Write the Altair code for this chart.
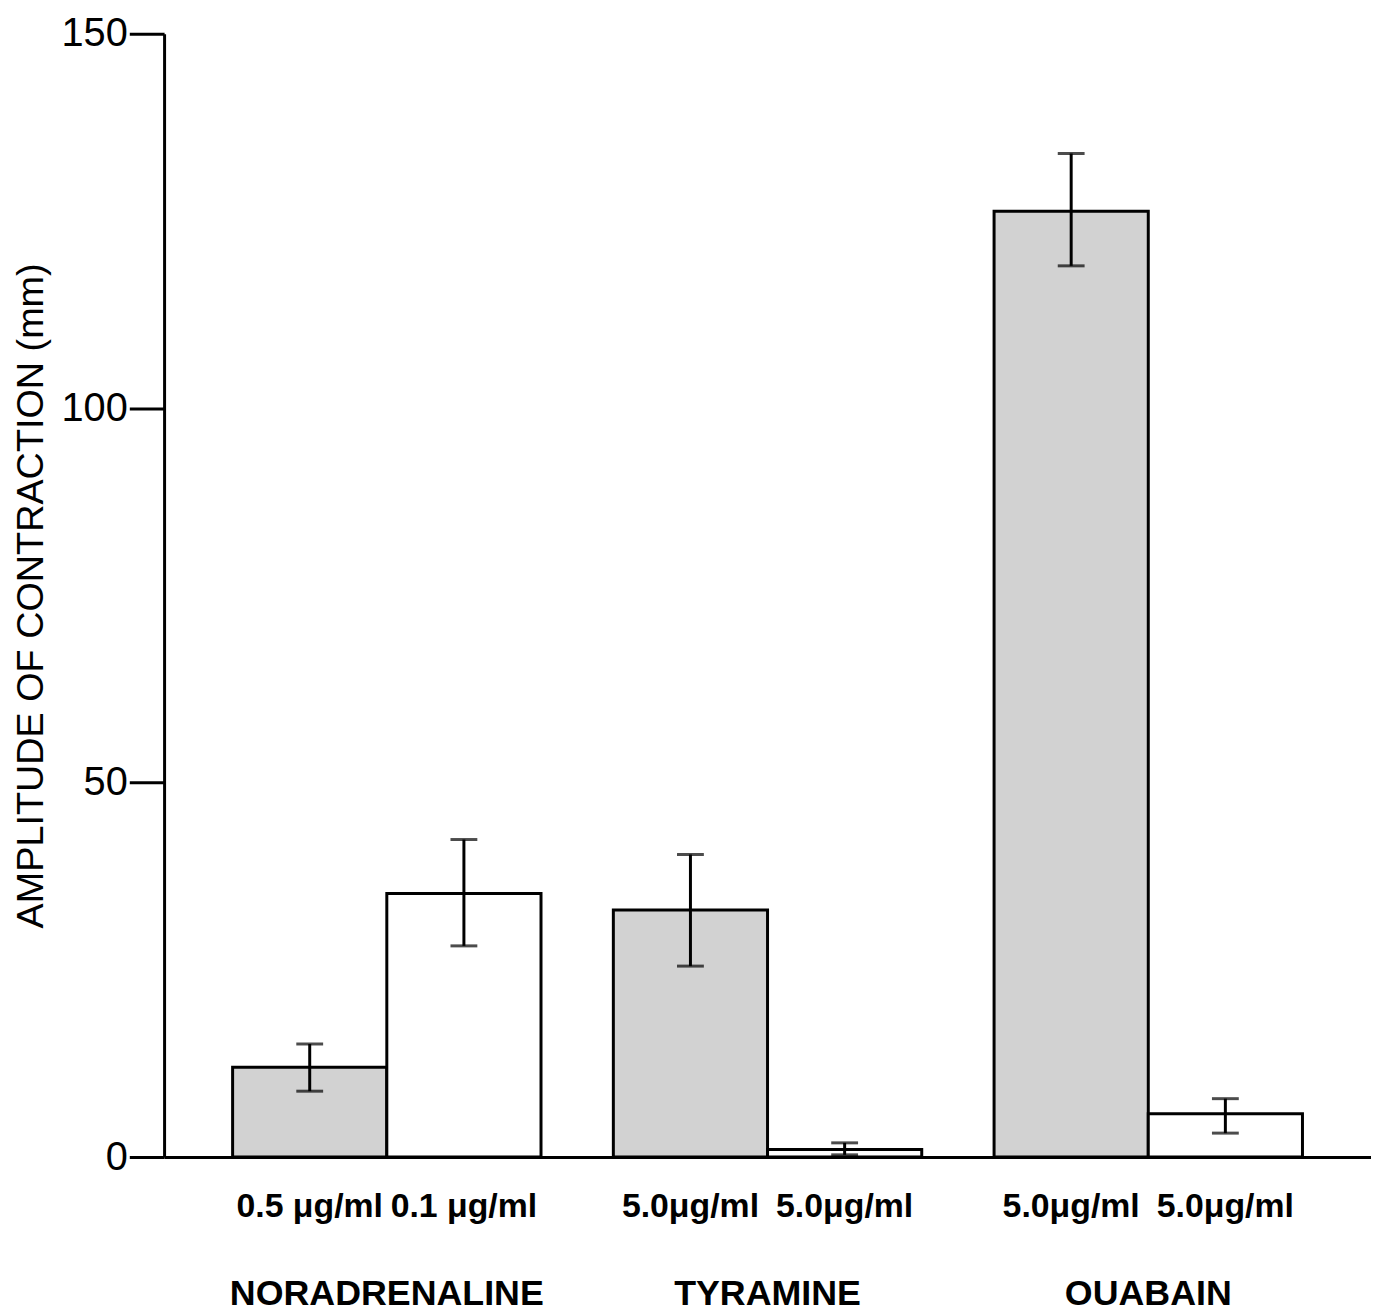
import altair as alt
import pandas as pd

groups = ["NORADRENALINE", "TYRAMINE", "OUABAIN"]
conds = ["stippled", "open"]
bar_group = ["NORADRENALINE", "NORADRENALINE", "TYRAMINE", "TYRAMINE", "OUABAIN", "OUABAIN"]
bar_cond = ["stippled", "open", "stippled", "open", "stippled", "open"]
doses = ["0.5 μg/ml", "0.1 μg/ml", "5.0μg/ml", "5.0μg/ml", "5.0μg/ml", "5.0μg/ml"]
means = [12.0, 35.2, 33.0, 1.0, 126.3, 5.8]
err_lo = [8.8, 28.2, 25.5, 0.3, 119.0, 3.2]
err_hi = [15.1, 42.4, 40.4, 1.9, 134.0, 7.8]
y_ticks = [0, 50, 100, 150]

W, H = 1214, 1130
FONT = "Liberation Sans"
TITLE = "AMPLITUDE OF CONTRACTION (mm)"

df = pd.DataFrame({"group": bar_group, "cond": bar_cond, "dose": doses,
                   "mean": means, "lo": err_lo, "hi": err_hi})
gdf = pd.DataFrame({"group": groups})

x_enc = alt.X("group:N", sort=groups,
              scale=alt.Scale(domain=groups, paddingInner=0.19, paddingOuter=0.18),
              axis=alt.Axis(labels=False, ticks=False, title=None, domainColor="black",
                            domainWidth=3, grid=False))
xo_enc = alt.XOffset("cond:N", sort=conds,
                     scale=alt.Scale(domain=conds, paddingInner=0, paddingOuter=0))
y_scale = alt.Scale(domain=[0, 150], nice=False, zero=True)
y_axis = alt.Axis(values=y_ticks, tickSize=35, tickWidth=3, tickColor="black",
                  domainWidth=3, domainColor="black", labelFont=FONT, labelFontSize=40,
                  labelColor="black", labelPadding=2, labelFlush=False, grid=False,
                  title=TITLE, titleFont=FONT, titleFontSize=38, titleFontWeight="normal",
                  titlePadding=11, titleColor="black")

base = alt.Chart(df)

bars = base.mark_bar(stroke="black", strokeWidth=3).encode(
    x=x_enc, xOffset=xo_enc,
    y=alt.Y("mean:Q", scale=y_scale, axis=y_axis, title=TITLE),
    fill=alt.Fill("cond:N", scale=alt.Scale(domain=conds, range=["#d2d2d2", "white"]),
                  legend=None),
)

rules = base.mark_rule(color="black", strokeWidth=3).encode(
    x=x_enc, xOffset=xo_enc,
    y=alt.Y("lo:Q", scale=y_scale, title=TITLE), y2="hi:Q",
)
cap_lo = base.mark_tick(color="black", size=27, thickness=3).encode(
    x=x_enc, xOffset=xo_enc, y=alt.Y("lo:Q", scale=y_scale, title=TITLE))
cap_hi = base.mark_tick(color="black", size=27, thickness=3).encode(
    x=x_enc, xOffset=xo_enc, y=alt.Y("hi:Q", scale=y_scale, title=TITLE))

dose_text = base.mark_text(font=FONT, fontSize=34, fontWeight="bold", color="black",
                           baseline="middle", align="center").encode(
    x=x_enc, xOffset=xo_enc, y=alt.value(H + 50), text="dose:N")

group_text = alt.Chart(gdf).mark_text(font=FONT, fontSize=36, fontWeight="bold",
                                      color="black", baseline="middle",
                                      align="center").encode(
    x=x_enc, y=alt.value(H + 138), text="group:N")

chart = alt.layer(bars, rules, cap_lo, cap_hi, dose_text, group_text).properties(
    width=W, height=H,
    autosize=alt.AutoSizeParams(type="none"),
    padding={"left": 157, "top": 22, "right": 0, "bottom": 152},
).configure(background="white").configure_view(stroke=None)

chart.save("out.html", embed_options={"renderer": "svg", "actions": False})
